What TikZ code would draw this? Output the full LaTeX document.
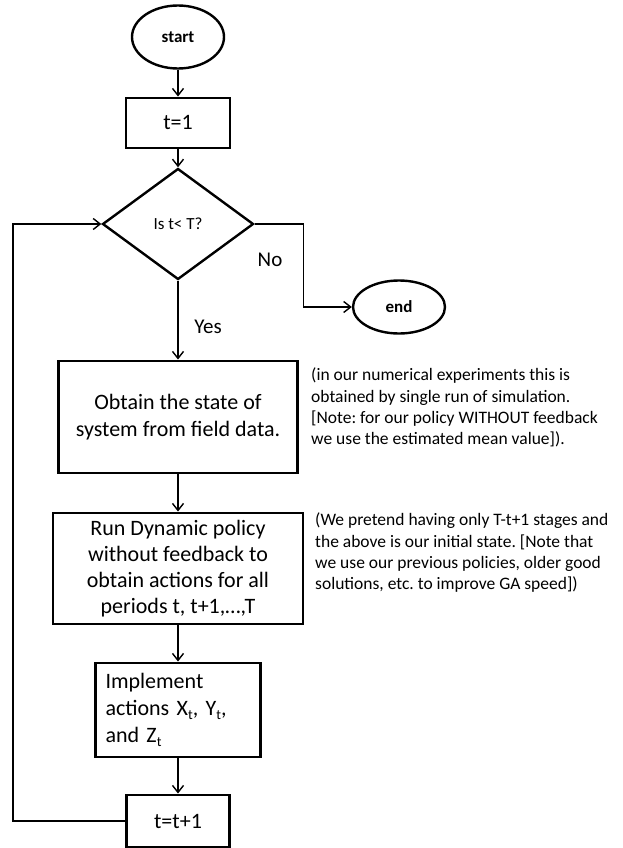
\documentclass[tikz,border=0pt]{standalone}
\usepackage{fontspec}
\setmainfont{Carlito}
\usetikzlibrary{shapes.geometric,arrows.meta}
\frenchspacing
\newcommand{\lowsub}[1]{\raisebox{-0.35ex}{\fontsize{14}{14}\selectfont #1}}

\begin{document}
\begin{tikzpicture}[x=1pt,y=-1pt,
  box/.style={draw,rectangle,line width=2.9pt,inner sep=0pt,align=center,font=\fontsize{22}{27}\selectfont},
  term/.style={draw,ellipse,line width=2.4pt,inner sep=0pt,font=\fontsize{17}{20}\selectfont\bfseries},
  choice/.style={draw,diamond,line width=2.4pt,inner sep=0pt,font=\fontsize{17}{20}\selectfont},
  link/.style={line width=1.4pt,-{Straight Barb[length=7pt,width=11pt,line width=1.4pt]}},
  lbl/.style={inner sep=0pt,font=\fontsize{21}{25}\selectfont},
  note/.style={inner sep=0pt,align=left,font=\fontsize{17.5}{21.3}\selectfont}]
\useasboundingbox (0,0) rectangle (623,848);
\node[term,minimum width=92pt,minimum height=63pt] (start) at (178,37) {start};
\node[box,minimum width=104pt,minimum height=50pt] (t1) at (178,123) {t=1};
\node[choice,minimum width=151pt,minimum height=111pt] (cond) at (178,224) {Is t< T?};
\node[term,minimum width=92pt,minimum height=53pt] (stop) at (399,307) {end};
\node[box,minimum width=239pt,minimum height=112pt] (state) at (178,417) {Obtain the state of\\system from field data.};
\node[box,minimum width=250pt,minimum height=111pt,font=\fontsize{22}{26}\selectfont] (plan) at (178,568.5) {Run Dynamic policy\\without feedback to\\obtain actions for all\\periods t, t+1,…,T};
\node[box,minimum width=165pt,minimum height=94pt,align=left,text width=145pt] (act) at (178,710) {Implement\\actions X\lowsub{t}, Y\lowsub{t},\\and Z\lowsub{t}};
\node[box,minimum width=103pt,minimum height=52pt] (next) at (178,821) {t=t+1};
\node[lbl] (no) at (270,260) {No};
\node[lbl] (yes) at (208,327) {Yes};
\node[note,anchor=north west] (note1) at (311,368) {(in our numerical experiments this is\\obtained by single run of simulation.\\{[}Note: for our policy WITHOUT feedback\\we use the estimated mean value]).};
\node[note,anchor=north west] (note2) at (315,513) {(We pretend having only T-t+1 stages and\\the above is our initial state. [Note that\\we use our previous policies, older good\\solutions, etc. to improve GA speed])};
\coordinate (back) at (13,224);
\draw[link] (start) -- (t1);
\draw[link] (t1) -- (cond);
\draw[link] (cond.east) -- ++(49,0) |- (stop.west);
\draw[link] (cond) -- (state);
\draw[link] (state) -- (plan);
\draw[link] (plan) -- (act);
\draw[link] (act) -- (next);
\draw[link] (next.west) -| (back) -- (cond.west);
\end{tikzpicture}
\end{document}
